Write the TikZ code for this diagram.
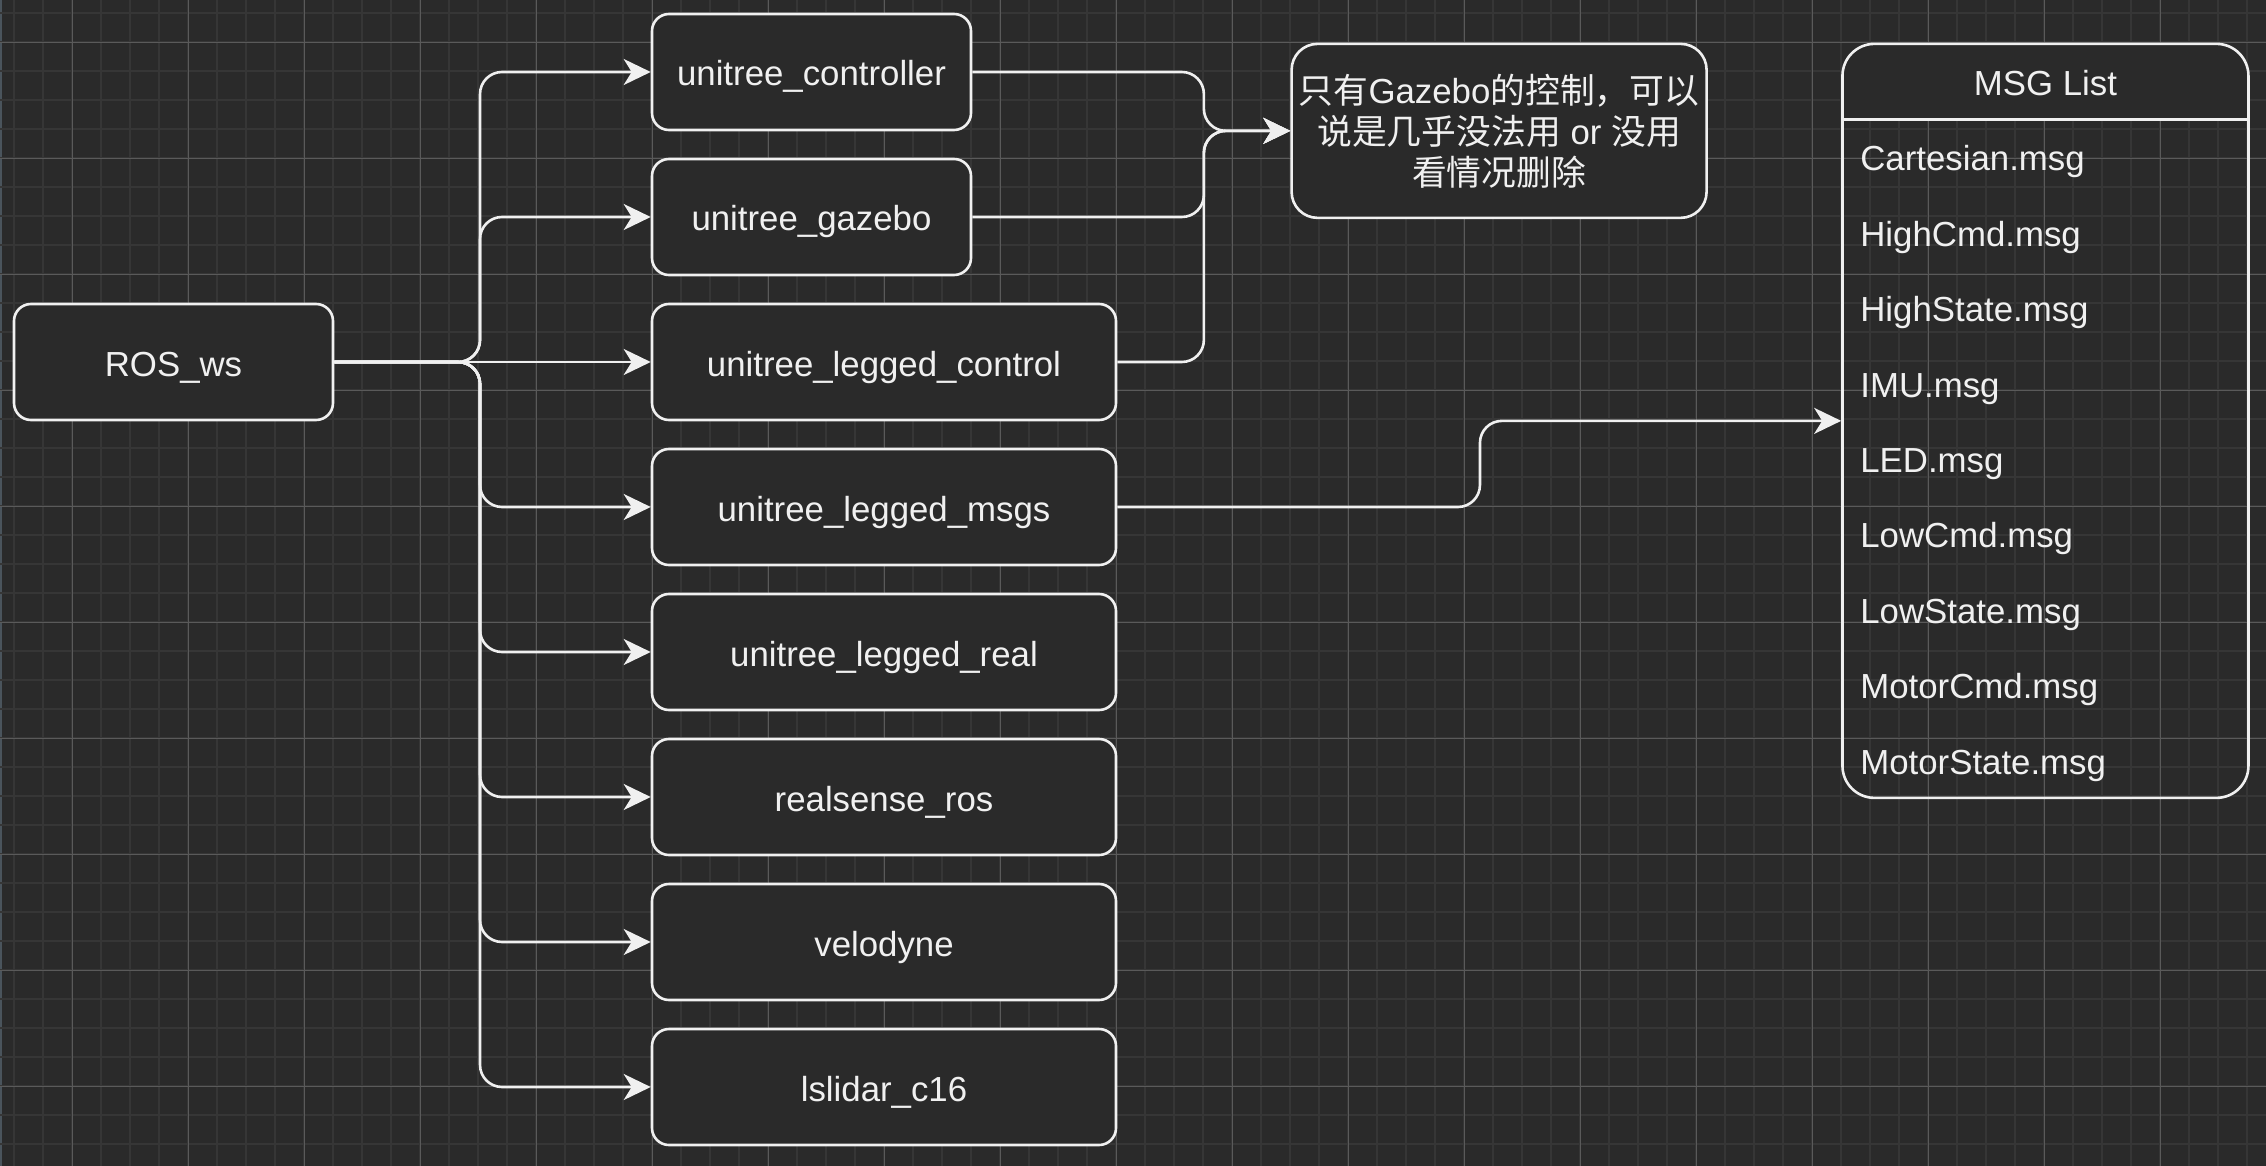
\documentclass[tikz,border=0pt]{standalone}
\usepackage{fontspec}
\setmainfont{Liberation Sans}
\newfontfamily\cjk{Noto Sans CJK SC}
\usetikzlibrary{arrows.meta}
\definecolor{bg}{HTML}{2A2A2A}
\definecolor{fg}{HTML}{F0F0F0}
\definecolor{gridminor}{HTML}{363636}
\definecolor{gridmajor}{HTML}{5A5A5A}
\definecolor{edgestrip}{HTML}{4A545C}
\begin{document}
\begin{tikzpicture}[x=2.9pt,y=-2.9pt,
  txt/.style={text=fg, font=\fontsize{34.8}{41}\selectfont, inner sep=0pt},
  oneline/.style={text height=28pt, text depth=0pt},
  box/.style={txt, draw=fg, fill=bg, line width=2.6pt, rounded corners=17pt, minimum height=116pt},
  narrow/.style={box, oneline, minimum width=319pt},
  wide/.style={box, oneline, minimum width=464pt},
  notebox/.style={box, align=center, minimum width=415pt, minimum height=174pt, rounded corners=26pt},
  item/.style={txt, oneline, anchor=west},
  conn/.style={draw=fg, line width=2.6pt, rounded corners=22pt, -{Stealth[length=27pt,width=26pt,inset=8pt]}},
]
% background and bounding box
\fill[bg] (-14pt,14pt) rectangle (2252pt,-1152pt);
\useasboundingbox (-14pt,14pt) rectangle (2252pt,-1152pt);
\fill[edgestrip] (-14pt,14pt) rectangle (-12pt,-1152pt);
% grid
\foreach \k in {0,...,77} \draw[gridminor, line width=1.3pt] (\k*10,-4.83) -- (\k*10,397.24);
\foreach \k in {0,...,39} \draw[gridminor, line width=1.3pt] (-4.83,\k*10-0.3) -- (776.55,\k*10-0.3);
\foreach \k in {0,...,18} \draw[gridmajor, line width=0.9pt] (20+\k*40,-4.83) -- (20+\k*40,397.24);
\foreach \k in {0,...,9} \draw[gridmajor, line width=0.9pt] (-4.83,10+\k*40-0.3) -- (776.55,10+\k*40-0.3);

% nodes
\node[narrow] (ros) at (55,120) {ROS\_ws};
\node[narrow] (ctrl) at (275,20) {unitree\_controller};
\node[narrow] (gaz) at (275,70) {unitree\_gazebo};
\node[wide] (lctl) at (300,120) {unitree\_legged\_control};
\node[wide] (lmsg) at (300,170) {unitree\_legged\_msgs};
\node[wide] (lreal) at (300,220) {unitree\_legged\_real};
\node[wide] (rs) at (300,270) {realsense\_ros};
\node[wide] (velo) at (300,320) {velodyne};
\node[wide] (lsl) at (300,370) {lslidar\_c16};

\node[notebox] (note) at (512.1,40.3) {{\cjk 只有}Gazebo{\cjk 的控制，可以}\\{\cjk 说是几乎没法用} or {\cjk 没用}\\{\cjk 看情况删除}};

% MSG list
\begin{scope}
\clip (630.5,10.3) rectangle (770.5,36.3);
\fill[bg, rounded corners=32pt] (630.5,10.3) rectangle (770.5,270.3);
\end{scope}
\node[draw=fg, line width=2.6pt, rounded corners=32pt, minimum width=406pt, minimum height=754pt, inner sep=0pt] (msg) at (700.5,140.3) {};
\coordinate (hb) at (0,36.3);
\draw[fg, line width=2.6pt] (msg.west |- hb) -- (msg.east |- hb);
\node[txt, oneline] (msgtitle) at (700.5,23.3) {MSG List};
\foreach \t [count=\i] in {Cartesian.msg,HighCmd.msg,HighState.msg,IMU.msg,LED.msg,LowCmd.msg,LowState.msg,MotorCmd.msg,MotorState.msg}
  \node[item] (m\i) at (636.6,23.3+26*\i) {\t};

% connectors
\coordinate (t1) at (160.7,0);
\foreach \n in {ctrl,gaz,lmsg,lreal,rs,velo,lsl}
  \draw[conn] (ros.east) -- (ros.east -| t1) |- (\n.west);
\draw[conn] (ros.east) -- (lctl.west);

\coordinate (t2) at (410.3,0);
\foreach \n in {ctrl,gaz,lctl}
  \draw[conn] (\n.east) -- (\n.east -| t2) |- (note.west);

\coordinate (t3) at (505.5,0);
\draw[conn] (lmsg.east) -- (lmsg.east -| t3) |- (msg.west);
\end{tikzpicture}
\end{document}
